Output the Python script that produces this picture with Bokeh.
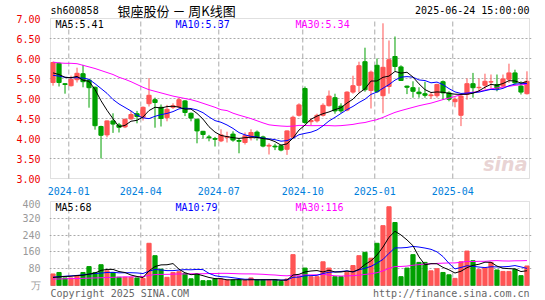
import numpy as np
from bokeh.plotting import figure
from bokeh.layouts import column
from bokeh.models import FixedTicker, Label, Range1d, BoxAnnotation
from bokeh.embed import file_html
from bokeh.resources import INLINE

# ---------------- data (weekly K line, sh600858) ----------------
opens = [5.40, 5.88, 5.37, 5.32, 5.47, 5.62, 5.46, 5.28, 4.30, 4.09,
         4.44, 4.34, 4.29, 4.49, 4.62, 4.53, 4.87, 4.97, 4.78, 4.52,
         4.78, 4.79, 4.94, 4.63, 4.48, 4.18, 4.04, 4.00, 3.94, 4.03,
         4.11, 3.95, 3.90, 4.02, 4.16, 4.04, 3.81, 3.81, 3.82, 3.73,
         4.03, 4.58, 5.25, 4.42, 4.44, 4.58, 4.82, 5.02, 4.81, 4.71,
         5.16, 5.33, 5.92, 5.20, 5.83, 5.07, 5.30, 6.05, 5.79, 5.31,
         5.27, 5.16, 5.12, 5.07, 5.07, 5.42, 5.14, 4.92, 4.58, 5.10,
         5.37, 5.27, 5.33, 5.41, 5.35, 5.31, 5.48, 5.64, 5.31, 5.12]
highs = [5.92, 5.90, 5.38, 5.57, 5.77, 5.84, 5.48, 5.30, 4.32, 4.45,
         4.63, 4.39, 4.50, 4.69, 4.69, 4.80, 5.51, 5.02, 4.85, 4.84,
         4.88, 5.01, 4.96, 4.65, 4.50, 4.19, 4.09, 4.04, 4.23, 4.17,
         4.18, 4.01, 4.15, 4.23, 4.20, 4.07, 3.88, 3.87, 3.85, 4.20,
         4.57, 4.88, 5.30, 4.50, 4.62, 4.88, 5.20, 5.12, 4.88, 5.18,
         5.57, 5.92, 6.27, 5.70, 6.00, 6.88, 6.45, 6.55, 5.83, 5.32,
         5.43, 5.28, 5.42, 5.14, 5.37, 5.45, 5.18, 5.03, 5.10, 5.50,
         5.64, 5.50, 5.62, 5.60, 5.60, 5.60, 5.87, 5.72, 5.43, 5.68]
lows = [5.32, 5.30, 5.12, 5.30, 5.40, 5.28, 4.77, 4.22, 3.50, 4.03,
        4.14, 4.15, 4.26, 4.47, 4.38, 4.45, 4.80, 4.27, 4.30, 4.43,
        4.74, 4.76, 4.56, 4.43, 3.88, 4.00, 3.93, 3.80, 3.91, 3.90,
        3.92, 3.63, 3.85, 3.95, 3.95, 3.78, 3.60, 3.71, 3.68, 3.59,
        4.00, 4.55, 4.36, 4.33, 4.40, 4.55, 4.80, 4.62, 4.64, 4.68,
        5.12, 5.15, 5.17, 4.75, 5.14, 4.63, 5.12, 5.69, 5.44, 5.11,
        5.02, 5.02, 5.02, 4.99, 5.02, 4.97, 4.93, 4.78, 4.31, 4.97,
        5.02, 5.18, 5.23, 5.25, 5.18, 5.27, 5.39, 5.35, 5.10, 5.10]
closes = [5.90, 5.40, 5.35, 5.48, 5.63, 5.42, 5.27, 4.32, 4.08, 4.44,
          4.36, 4.28, 4.48, 4.60, 4.55, 4.78, 5.08, 4.90, 4.50, 4.73,
          4.82, 4.97, 4.65, 4.51, 4.19, 4.10, 4.02, 3.98, 4.09, 4.05,
          3.96, 3.93, 4.07, 4.15, 4.03, 3.81, 3.83, 3.79, 3.71, 4.19,
          4.53, 4.84, 4.40, 4.45, 4.58, 4.83, 5.06, 4.69, 4.69, 5.16,
          5.32, 5.82, 5.22, 5.66, 5.17, 5.78, 5.97, 5.80, 5.45, 5.28,
          5.18, 5.12, 5.08, 5.09, 5.35, 5.14, 4.98, 4.98, 5.06, 5.37,
          5.27, 5.28, 5.43, 5.42, 5.25, 5.49, 5.64, 5.39, 5.16, 5.43]
volumes = [55, 62, 36, 36, 47, 62, 90, 62, 99, 70,
           62, 39, 39, 39, 36, 34, 201, 142, 78, 39,
           62, 66, 58, 32, 55, 23, 23, 31, 31, 26,
           26, 26, 23, 36, 26, 26, 26, 26, 20, 31,
           147, 42, 83, 42, 42, 113, 83, 42, 42, 63,
           95, 142, 158, 130, 201, 285, 375, 300, 42, 83,
           147, 110, 110, 70, 80, 62, 51, 34, 113, 164,
           118, 77, 83, 110, 74, 67, 67, 77, 47, 93]

# moving-average values for weeks whose window starts before the first candle
ma5_start = [5.64, 5.60, 5.53, 5.52]
ma10_start = [5.58, 5.56, 5.53, 5.52, 5.52, 5.51, 5.48, 5.37, 5.25]
ma30_start = [5.91, 5.89, 5.88, 5.88, 5.87, 5.83, 5.79, 5.75, 5.70, 5.65,
              5.60, 5.53, 5.48, 5.42, 5.35, 5.28, 5.22, 5.18, 5.14, 5.10,
              5.06, 5.03, 5.00, 4.97, 4.93, 4.88, 4.83, 4.78, 4.72]
vma5_start = [38, 41, 43, 44]
vma10_start = [40, 42, 44, 46, 48, 51, 54, 57, 59]
vma30_start = [31, 31, 32, 33, 33, 34, 35, 36, 37, 38, 39, 40, 41, 41, 42,
               43, 48, 52, 53, 53, 54, 55, 55, 56, 56, 56, 57, 57, 58]

tick_weeks = [3, 15, 28, 42, 54, 67]
tick_labels = ["2024-01", "2024-04", "2024-07", "2024-10", "2025-01", "2025-04"]
price_ticks = [3.0, 3.5, 4.0, 4.5, 5.0, 5.5, 6.0, 6.5, 7.0]
vol_ticks = [0, 80, 160, 240, 320, 400]
vol_tick_labels = ["万", "80", "160", "240", "320", "400"]
P_LO, P_HI = 3.0, 7.0
V_LO, V_HI = 0, 400

title_code = "sh600858"
title_name = "银座股份 － 周K线图"
stamp = "2025-06-24 15:00:00"
price_ma_text = ["MA5:5.41", "MA10:5.37", "MA30:5.34"]
vol_ma_text = ["MA5:68", "MA10:79", "MA30:116"]
footer_left = "Copyright 2025 SINA.COM"
footer_right = "http://finance.sina.com.cn"

# ---------------- helpers ----------------
def rolling(vals, w, start):
    out = []
    for i in range(len(vals)):
        if i < w - 1:
            out.append(start[i])
        else:
            out.append(float(np.mean(vals[i - w + 1:i + 1])))
    return out

n = len(closes)
idx = list(range(n))
RED = "#ff5555"
GREEN = "#00a000"
colors = [RED if c >= o else GREEN for o, c in zip(opens, closes)]
tops = [max(o, c) for o, c in zip(opens, closes)]
bots = [min(o, c) for o, c in zip(opens, closes)]

ma5 = rolling(closes, 5, ma5_start)
ma10 = rolling(closes, 10, ma10_start)
ma30 = rolling(closes, 30, ma30_start)
vma5 = rolling(volumes, 5, vma5_start)
vma10 = rolling(volumes, 10, vma10_start)
vma30 = rolling(volumes, 30, vma30_start)

MONO = "DejaVu Sans Mono"
GRID = "#aaaaaa"
BORDER = "#999999"
W = 545
PXU = 6.0                     # pixels per week
X0, X1 = -0.42, 79.42         # visible week span (box edges at x=50 and x=529)
FX0 = X0 - 1 / PXU            # frame slightly wider than the box
FX1 = X1 + 2 / PXU
xt = [t - 0.37 for t in tick_weeks]

P_PX = 40.0                   # pixels per 1.00 of price; 7.00 at y=18
V_PX = 84.0 / 400.0           # pixels per volume unit; 400 at y=201, 0 at y=285

# canvas pixel -> data coords (only used to place free texts)
def dx(px):
    return X0 + (px - 50) / PXU

def py1(py):
    return P_HI - (py - 18) / P_PX

def py2(py):
    return (285 - py) / V_PX

x_range = Range1d(FX0, FX1)

# ---------------- price panel (frame 2..179) ----------------
p1 = figure(width=W, height=198, x_range=x_range,
            y_range=Range1d(py1(179), py1(2)),
            output_backend="svg", toolbar_location=None,
            min_border_left=49, min_border_right=14, min_border_top=2,
            min_border_bottom=19)
p1.outline_line_color = None

p1.xaxis.ticker = FixedTicker(ticks=xt)
p1.xaxis.major_label_overrides = {t: l for t, l in zip(xt, tick_labels)}
p1.yaxis.ticker = FixedTicker(ticks=price_ticks)
p1.yaxis.major_label_overrides = {t: f"{t:.2f}" for t in price_ticks}
for ax in (p1.xaxis, p1.yaxis):
    ax.axis_line_color = None
    ax.major_tick_line_color = None
    ax.minor_tick_line_color = None
    ax.major_label_text_font = MONO
    ax.major_label_text_font_size = "10px"
p1.xaxis.major_label_standoff = 1
p1.yaxis.major_label_standoff = 3
p1.xaxis.major_label_text_color = "#0080dc"
p1.yaxis.major_label_text_color = "#ee0000"

p1.xgrid.visible = False
p1.ygrid.ticker = FixedTicker(ticks=price_ticks[1:-1])
p1.ygrid.grid_line_color = GRID
p1.ygrid.grid_line_dash = "2 2"
p1.segment(x0=xt, y0=[P_LO] * len(xt), x1=xt, y1=[P_HI] * len(xt),
           line_color=GRID, line_dash="5 3", line_width=1)
p1.add_layout(BoxAnnotation(left=X0, right=X1, bottom=P_LO, top=P_HI,
                            fill_alpha=0, line_color=BORDER, line_width=1))

p1.segment(x0=idx, y0=lows, x1=idx, y1=highs, line_color=colors, line_width=1)
p1.vbar(x=idx, width=0.7, top=tops, bottom=bots, fill_color=colors,
        line_color=colors, line_width=1)
p1.line(idx, ma30, line_color="#ff00ff", line_width=1)
p1.line(idx, ma10, line_color="#0000ff", line_width=1)
p1.line(idx, ma5, line_color="#000000", line_width=1)

def lab(p, x, y, text, color, size="10px", font=MONO, align="left", **kw):
    p.add_layout(Label(x=x, y=y, text=text, text_color=color, text_font=font,
                       text_font_size=size, text_align=align,
                       text_baseline="middle", **kw))

lab(p1, dx(50), py1(10), title_code, "#000000")
lab(p1, dx(117), py1(9.5), title_name, "#000000", size="13px", font="Noto Sans CJK SC")
lab(p1, dx(529), py1(10), stamp, "#000000", align="right")
for t, xpx, col in zip(price_ma_text, [55, 175, 295], ["#000000", "#0000ff", "#ff00ff"]):
    lab(p1, dx(xpx), py1(24), t, col)
lab(p1, dx(527), py1(163), "sina", "#e3c9c9", size="19px", font="DejaVu Sans",
    align="right", text_font_style="bold italic", text_alpha=0.8)

# ---------------- volume panel (frame 200..300) ----------------
p2 = figure(width=W, height=102, x_range=x_range,
            y_range=Range1d(py2(300), py2(200)),
            output_backend="svg", toolbar_location=None,
            min_border_left=49, min_border_right=14, min_border_top=2,
            min_border_bottom=0)
p2.outline_line_color = None
p2.xaxis.visible = False
p2.yaxis.ticker = FixedTicker(ticks=vol_ticks)
p2.yaxis.major_label_overrides = {t: l for t, l in zip(vol_ticks, vol_tick_labels)}
p2.yaxis.axis_line_color = None
p2.yaxis.major_tick_line_color = None
p2.yaxis.minor_tick_line_color = None
p2.yaxis.major_label_text_font = MONO
p2.yaxis.major_label_text_font_size = "10px"
p2.yaxis.major_label_text_color = "#999999"
p2.yaxis.major_label_standoff = 3

p2.xgrid.visible = False
p2.ygrid.ticker = FixedTicker(ticks=vol_ticks[1:-1])
p2.ygrid.grid_line_color = GRID
p2.ygrid.grid_line_dash = "2 2"
p2.segment(x0=xt, y0=[V_LO] * len(xt), x1=xt, y1=[V_HI] * len(xt),
           line_color=GRID, line_dash="5 3", line_width=1)
p2.add_layout(BoxAnnotation(left=X0, right=X1, bottom=V_LO, top=V_HI,
                            fill_alpha=0, line_color=BORDER, line_width=1))

p2.vbar(x=idx, width=0.7, top=volumes, bottom=0, fill_color=colors,
        line_color=colors, line_width=1)
p2.line(idx, vma30, line_color="#ff00ff", line_width=1)
p2.line(idx, vma10, line_color="#0000ff", line_width=1)
p2.line(idx, vma5, line_color="#000000", line_width=1)

for t, xpx, col in zip(vol_ma_text, [55, 175, 295], ["#000000", "#0000ff", "#ff00ff"]):
    lab(p2, dx(xpx), py2(206.5), t, col)
lab(p2, dx(50), py2(292.5), footer_left, "#666666")
lab(p2, dx(529), py2(292.5), footer_right, "#666666", align="right")

layout = column(p1, p2, spacing=0)
open("out.html", "w").write(file_html(layout, INLINE))
